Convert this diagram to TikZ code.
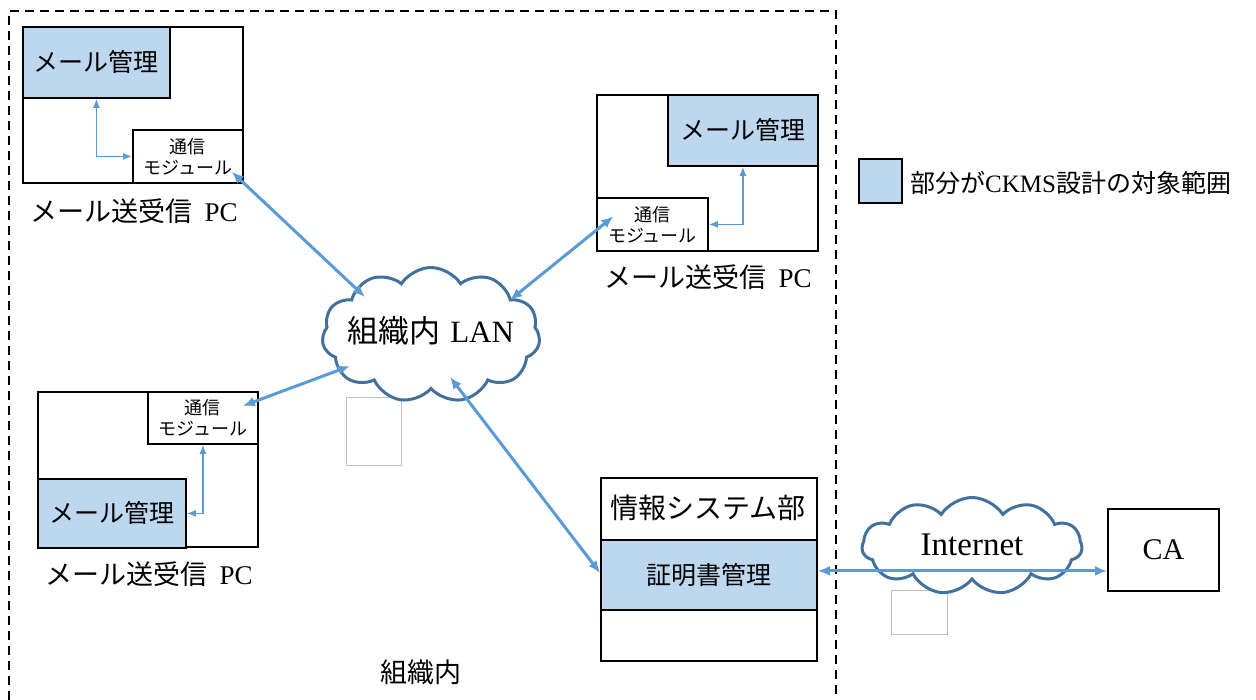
\documentclass[tikz,border=0pt]{standalone}
\usepackage{fontspec}
\setmainfont{Liberation Serif}
\newfontfamily\jp{Noto Sans CJK JP}
\usetikzlibrary{arrows.meta,shapes.symbols}

\definecolor{partblue}{RGB}{189,215,238}
\definecolor{linkblue}{RGB}{91,155,213}
\definecolor{cloudblue}{RGB}{65,113,156}

\tikzset{
    box/.style={draw, line width=1.8pt, inner sep=0pt, anchor=north west, align=center},
    part/.style={box, fill=partblue},
    txt/.style={inner sep=0pt, font=\fontsize{#1}{#1}\selectfont},
    modtxt/.style={font=\jp\fontsize{18}{21}\selectfont},
    link/.style={draw=linkblue, line width=3pt, {Latex[length=12pt,width=10pt]}-{Latex[length=12pt,width=10pt]}},
    sublink/.style={draw=linkblue, line width=1.3pt, {Latex[length=9pt,width=7pt]}-{Latex[length=9pt,width=7pt]}},
    net/.style={cloud, cloud puffs=11, cloud puff arc=115, draw=cloudblue, line width=3pt, fill=white, inner sep=0pt},
    ghost/.style={draw=black!25, line width=0.9pt, inner sep=0pt, anchor=north west}
}

\begin{document}
\begin{tikzpicture}[x=1pt,y=-1pt]
        \useasboundingbox (0,0) rectangle (1256,700);

        % organisation boundary
        \draw[line width=2.4pt, dash pattern=on 9pt off 6pt] (9,700) -- (9,11) -- (836,11) -- (836,700);
        \node[txt=27] (orglabel) at (421,672) {\jp 組織内};

        % PC top left
        \node[box, minimum width=220pt, minimum height=156pt] (pc1) at (22,26) {};
        \node[part, minimum width=147pt, minimum height=71pt, font=\jp\fontsize{25}{25}\selectfont] (mail1) at (22,26) {メール管理};
        \node[box, fill=white, minimum width=110pt, minimum height=53pt, modtxt] (mod1) at (132,129) {通信\\モジュール};
        \draw[sublink] (mail1.south) |- (mod1.west);
        \node[txt=27] (pc1label) at (134,211) {{\jp メール送受信}\hspace{0.45em}PC};

        % PC top right
        \node[box, minimum width=221pt, minimum height=156pt] (pc2) at (596,94) {};
        \node[part, minimum width=150pt, minimum height=71pt, font=\jp\fontsize{25}{25}\selectfont] (mail2) at (667,94) {メール管理};
        \node[box, fill=white, minimum width=111pt, minimum height=53pt, modtxt] (mod2) at (596,197) {通信\\モジュール};
        \draw[sublink] (mail2.south) |- (mod2.east);
        \node[txt=27] (pc2label) at (708,277) {{\jp メール送受信}\hspace{0.45em}PC};

        % PC bottom left
        \node[box, minimum width=220pt, minimum height=155pt] (pc3) at (37,391) {};
        \node[box, fill=white, minimum width=110pt, minimum height=52pt, modtxt] (mod3) at (147,391) {通信\\モジュール};
        \node[part, minimum width=148pt, minimum height=69pt, font=\jp\fontsize{25}{25}\selectfont] (mail3) at (37,478) {メール管理};
        \draw[sublink] (mod3.south) |- (mail3.east);
        \node[txt=27] (pc3label) at (149,574) {{\jp メール送受信}\hspace{0.45em}PC};

        % information systems department
        \node[box, minimum width=216pt, minimum height=183pt] (dept) at (600,477) {};
        \node[txt=28] (depttitle) at (708,508) {\jp 情報システム部};
        \node[part, minimum width=216pt, minimum height=70pt, font=\jp\fontsize{25}{25}\selectfont] (cert) at (600,539) {証明書管理};

        % CA
        \node[box, minimum width=111pt, minimum height=82pt, font=\fontsize{30}{30}\selectfont] (ca) at (1107,508) {CA};

        % legend
        \node[part, minimum width=43pt, minimum height=44pt] (key) at (858,158) {};
        \node[txt=25, anchor=west] (keytext) at (910,183) {{\jp 部分が}CKMS{\jp 設計の対象範囲}};

        % empty frames
        \node[ghost, minimum width=55pt, minimum height=68pt] (lanbox) at (346,397) {};
        \node[ghost, minimum width=56pt, minimum height=44pt] (inetbox) at (891,590) {};

        % networks
        \node[net, minimum width=218pt, minimum height=135pt] (lan) at (431,335) {};
        \node[txt=31] (lantext) at (431,331) {{\jp 組織内}\hspace{0.3em}LAN};
        \node[net, minimum width=220pt, minimum height=97pt] (inet) at (972,546) {};
        \node[txt=33] (inettext) at (972,545) {Internet};

        % links
        \draw[link] ([shift={(-12,-12)}]mod1.south east) -- ([shift={(-66,-38)}]lan.center);
        \draw[link] ([shift={(-39,-8)}]mod2.center) -- ([shift={(79,-35)}]lan.center);
        \draw[link] ([shift={(40,-12)}]mod3.center) -- ([shift={(-81,31)}]lan.center);
        \draw[link] ([shift={(19,42)}]lan.center) -- ([yshift=2pt]cert.west);
        \coordinate (certport) at ([yshift=4pt]cert.east);
        \draw[link] (certport) -- (certport -| ca.west);

\end{tikzpicture}
\end{document}
